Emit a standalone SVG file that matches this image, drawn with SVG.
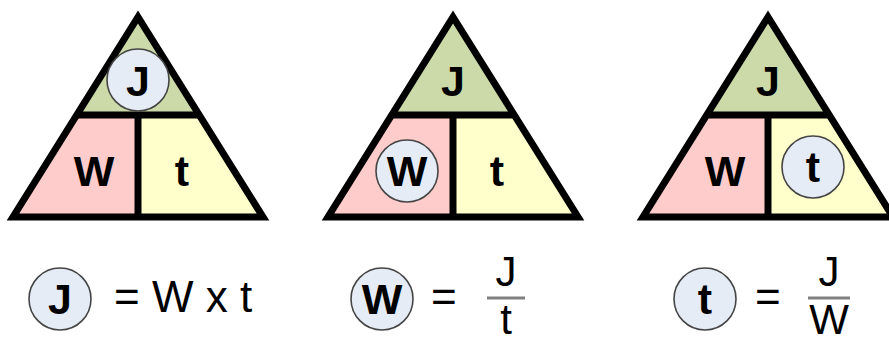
<svg xmlns="http://www.w3.org/2000/svg" width="889" height="343" viewBox="0 0 889 343">
<style>
.g{fill:#cbdaa8}.p{fill:#ffcccc}.y{fill:#ffffcc}
.ln{fill:none;stroke:#000;stroke-width:7;stroke-linejoin:miter;stroke-linecap:butt}
.c{fill:#e6ecf6;stroke:#444;stroke-width:1.6}
.b{font-family:"Liberation Sans",Arial,sans-serif;font-weight:bold;font-size:43px;fill:#000;text-anchor:middle}
.r{font-family:"Liberation Sans",Arial,sans-serif;font-size:44px;fill:#000}
.f{font-family:"Liberation Sans",Arial,sans-serif;font-size:42px;fill:#000;text-anchor:middle}
.fl{stroke:#808080;stroke-width:3}
</style>
<defs>
<g id="tri">
<polygon class="g" points="0,17 -61,115 61,115"/>
<polygon class="p" points="-61,115 0,115 0,217 -125,217"/>
<polygon class="y" points="61,115 0,115 0,217 125,217"/>
<polygon class="ln" points="0,17 -125,217 125,217"/>
<line class="ln" x1="-62" y1="115" x2="62" y2="115"/>
<line class="ln" x1="0" y1="115" x2="0" y2="217"/>
</g>
</defs>
<g id="triangle-j">
<use href="#tri" x="138"/>
<circle class="c" cx="138" cy="80" r="31"/>
<text class="b" x="138" y="96">J</text>
<text class="b" x="94" y="186">W</text>
<text class="b" x="182" y="186">t</text>
</g>
<g id="triangle-w">
<use href="#tri" x="453"/>
<text class="b" x="453" y="96">J</text>
<circle class="c" cx="407" cy="171" r="31"/>
<text class="b" x="407" y="186">W</text>
<text class="b" x="497" y="186">t</text>
</g>
<g id="triangle-t">
<use href="#tri" x="768"/>
<text class="b" x="768" y="96">J</text>
<text class="b" x="725" y="186">W</text>
<circle class="c" cx="813" cy="167" r="31"/>
<text class="b" x="813" y="182">t</text>
</g>
<g id="formula-j">
<circle class="c" cx="60" cy="299" r="31"/>
<text class="b" x="60" y="314">J</text>
<text class="r" x="114" y="312" xml:space="preserve">= W x t</text>
</g>
<g id="formula-w">
<circle class="c" cx="382" cy="299" r="31"/>
<text class="b" x="382" y="314">W</text>
<text class="r" x="431" y="312">=</text>
<text class="f" x="506" y="286">J</text>
<line class="fl" x1="487" y1="298" x2="525" y2="298"/>
<text class="f" x="506" y="334">t</text>
</g>
<g id="formula-t">
<circle class="c" cx="705" cy="299" r="31"/>
<text class="b" x="705" y="314">t</text>
<text class="r" x="755" y="312">=</text>
<text class="f" x="829" y="286">J</text>
<line class="fl" x1="808" y1="298" x2="850" y2="298"/>
<text class="f" x="829" y="334">W</text>
</g>
</svg>
